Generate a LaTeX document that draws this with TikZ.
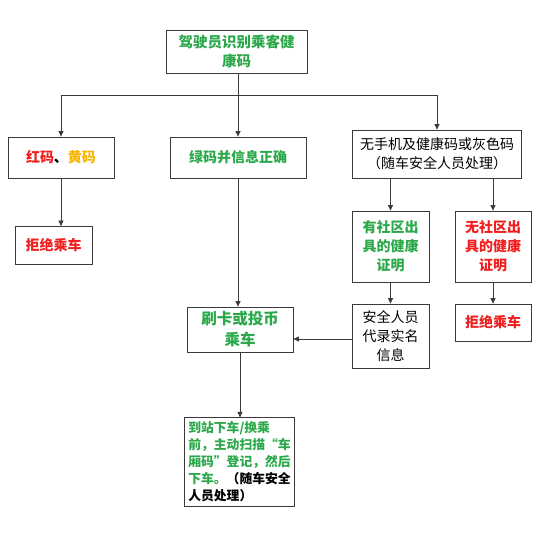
\documentclass[tikz,border=0pt]{standalone}
\usepackage{fontspec}
\usetikzlibrary{arrows.meta}
\newfontfamily\cjk{Noto Sans CJK SC}
\definecolor{codegreen}{HTML}{2BA84A}
\definecolor{codered}{HTML}{F01E1E}
\definecolor{codeyellow}{HTML}{F7B500}
\definecolor{boxline}{HTML}{3A3A3A}

\begin{document}
\begin{tikzpicture}[x=1pt,y=-1pt,font=\cjk\fontsize{14}{19}\selectfont,
    flowbox/.style={draw=boxline,line width=.8pt,inner sep=2pt,align=center},
    flowarrow/.style={draw=boxline,line width=.7pt,-{Triangle[length=5.5pt,width=5pt]}}]
  \useasboundingbox (0,0) rectangle (548,557);

  % decision on the passenger code
  \node[flowbox,minimum width=141pt,minimum height=43pt,text=codegreen,font=\cjk\bfseries\fontsize{14.5}{19}\selectfont] (check) at (236.5,51.5) {驾驶员识别乘客健\\康码};
  \node[flowbox,minimum width=106pt,minimum height=41pt,font=\cjk\bfseries\fontsize{14}{19}\selectfont] (redyellow) at (61,157.5)
    {\textcolor{codered}{红码}、\textcolor{codeyellow}{黄码}};
  \node[flowbox,minimum width=136pt,minimum height=41pt,text=codegreen,font=\cjk\bfseries\fontsize{14}{19}\selectfont] (greencode) at (238,157.5) {绿码并信息正确};
  \node[flowbox,minimum width=169pt,minimum height=48pt] (nophone) at (437,154)
    {无手机及健康码或灰色码\\（随车安全人员处理）};

  % second row
  \node[flowbox,minimum width=77pt,minimum height=38pt,text=codered,font=\cjk\bfseries\fontsize{14}{19}\selectfont] (rejectleft) at (53.5,245.5) {拒绝乘车};
  \node[flowbox,minimum width=77pt,minimum height=71pt,text=codegreen,font=\cjk\bfseries\fontsize{14}{19}\selectfont] (withproof) at (390.5,246.5) {有社区出\\具的健康\\证明};
  \node[flowbox,minimum width=76pt,minimum height=71pt,text=codered,font=\cjk\bfseries\fontsize{14}{19}\selectfont] (noproof) at (493,246.5) {无社区出\\具的健康\\证明};

  % third row
  \node[flowbox,minimum width=106pt,minimum height=45pt,text=codegreen,font=\cjk\bfseries\fontsize{15.5}{21}\selectfont] (pay) at (240,329.5) {刷卡或投币\\乘车};
  \node[flowbox,minimum width=77pt,minimum height=64pt] (register) at (390.5,336) {安全人员\\代录实名\\信息};
  \node[flowbox,minimum width=76pt,minimum height=37pt,text=codered,font=\cjk\bfseries\fontsize{14}{19}\selectfont] (rejectright) at (493,322.5) {拒绝乘车};

  % leaving the bus
  \node[flowbox,minimum width=105pt,minimum height=88pt,align=left,inner sep=4pt,
    font=\cjk\bfseries\fontsize{12.8}{17}\selectfont] (leave) at (239.5,462)
    {\textcolor{codegreen}{到站下车/换乘}\\\textcolor{codegreen}{前，主动扫描“车}\\\textcolor{codegreen}{厢码”登记，然后}\\\textcolor{codegreen}{下车。}（随车安全\\人员处理）};

  \coordinate (split) at (238,95);
  \draw[draw=boxline,line width=.7pt] (check.south -| split) -- (split);
  \draw[flowarrow] (split) -| (redyellow.north);
  \draw[flowarrow] (split) -- (greencode);
  \draw[flowarrow] (split) -| (nophone.north);
  \draw[flowarrow] (redyellow) -- (rejectleft.north -| redyellow.south);
  \draw[flowarrow] (withproof.north |- nophone.south) -- (withproof.north);
  \draw[flowarrow] (noproof.north |- nophone.south) -- (noproof.north);
  \draw[flowarrow] (noproof) -- (rejectright);
  \draw[flowarrow] (withproof) -- (register);
  \draw[flowarrow] (greencode.south) -- (greencode.south |- pay.north);
  \draw[flowarrow] ([yshift=-3pt]register.west) -- ([yshift=-3pt]register.west -| pay.east);
  \draw[flowarrow] (pay.south) -- (pay.south |- leave.north);
\end{tikzpicture}
\end{document}
